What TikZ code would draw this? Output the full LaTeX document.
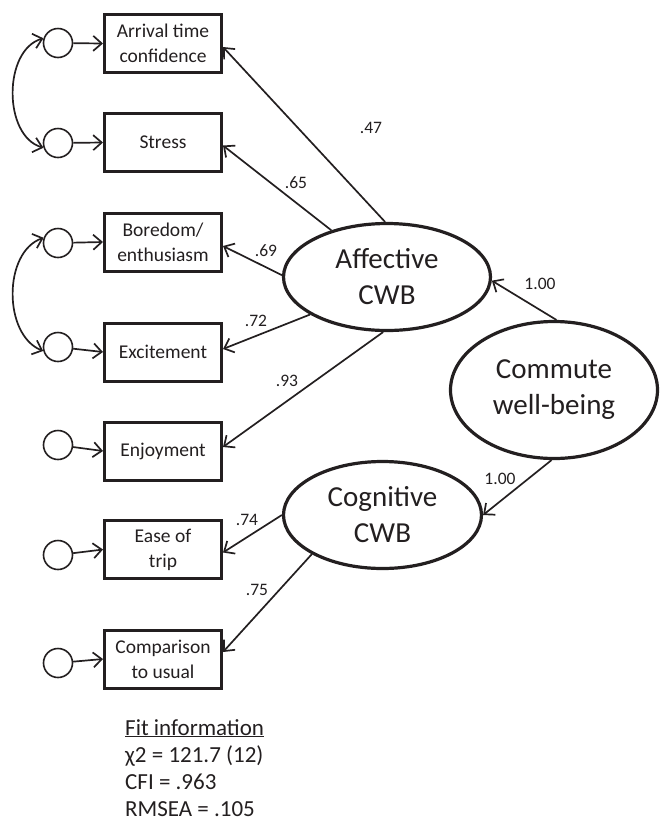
\documentclass[tikz,border=0pt]{standalone}
\usepackage{fontspec}
\setmainfont{Carlito}
\usetikzlibrary{shapes.geometric,arrows.meta}
\definecolor{ink}{HTML}{231F20}
\begin{document}
\begin{tikzpicture}[x=1pt,y=-1pt,
  obs/.style={draw=ink, line width=3pt, minimum width=117pt, minimum height=58pt, inner sep=0pt, align=center, font=\fontsize{19.5}{25}\selectfont, text=ink},
  err/.style={circle, draw=ink, line width=1.6pt, minimum size=29pt, inner sep=0pt},
  lat/.style={ellipse, draw=ink, line width=3.2pt, inner sep=0pt, align=center, font=\fontsize{29}{36}\selectfont, text=ink},
  pth/.style={draw=ink, line width=1.7pt, -{Straight Barb[length=8.5pt,width=15pt]}},
  cov/.style={draw=ink, line width=1.7pt, {Straight Barb[length=8.5pt,width=15pt]}-{Straight Barb[length=8.5pt,width=15pt]}},
  lbl/.style={font=\fontsize{17.5}{20}\selectfont, text=ink, inner sep=0pt},
  fit/.style={font=\fontsize{23}{27}\selectfont, text=ink, inner sep=0pt, anchor=base west},
]
\useasboundingbox (0,0) rectangle (660,823);

% observed indicators
\node[obs] (b1) at (163,43.5) {Arrival time\\confidence};
\node[obs] (b2) at (163,142.5) {Stress};
\node[obs] (b3) at (163,242) {Boredom/\\enthusiasm};
\node[obs] (b4) at (163,352) {Excitement};
\node[obs] (b5) at (163,451) {Enjoyment};
\node[obs] (b6) at (163,549.5) {Ease of\\trip};
\node[obs] (b7) at (163,659) {Comparison\\to usual};

% error terms
\node[err] (c1) at (58,43) {};
\node[err] (c2) at (58,143) {};
\node[err] (c3) at (58,243) {};
\node[err] (c4) at (58,347) {};
\node[err] (c5) at (58,445) {};
\node[err] (c6) at (58,555) {};
\node[err] (c7) at (58,663) {};

% latent variables
\node[lat, minimum width=207pt, minimum height=107pt] (aff) at (387,277) {Affective\\CWB};
\node[lat, minimum width=207pt, minimum height=137pt] (com) at (554,390) {Commute\\well-being};
\node[lat, minimum width=198pt, minimum height=107pt] (cog) at (382.5,515) {Cognitive\\CWB};

% error to indicator
\foreach \i in {1,...,7} {\draw[pth] (c\i) -- (b\i.west);}

% covariances
\draw[cov] (c1.162) .. controls (3,50) and (3,136) .. (c2.198);
\draw[cov] (c3.160) .. controls (3,252) and (3,335) .. (c4.195);

% loadings
\draw[pth] (aff.92) -- ([yshift=-3.5pt]b1.east);
\draw[pth] (aff.140) -- ([yshift=-3pt]b2.east);
\draw[pth] (aff.179) -- ([yshift=-4pt]b3.east);
\draw[pth] (aff.206) -- ([yshift=3pt]b4.east);
\draw[pth] (aff.266) -- ([yshift=4pt]b5.east);
\draw[pth] (com.88) -- (aff.-2);
\draw[pth] (com.268) -- (cog.east);
\draw[pth] (cog.west) -- ([yshift=-3pt]b6.east);
\draw[pth] (cog.209) -- ([yshift=7pt]b7.east);

% labels
\node[lbl] (l1) at (371,128) {.47};
\node[lbl] (l2) at (296,183) {.65};
\node[lbl] (l3) at (266,251) {.69};
\node[lbl] (l4) at (256,321) {.72};
\node[lbl] (l5) at (287,381) {.93};
\node[lbl] (l6) at (540,284) {1.00};
\node[lbl] (l7) at (500,479) {1.00};
\node[lbl] (l8) at (247,520) {.74};
\node[lbl] (l9) at (257,590) {.75};

% fit information
\node[fit] (f1) at (125,735) {\underline{Fit information}};
\node[fit] (f2) at (125,762) {χ2 = 121.7 (12)};
\node[fit] (f3) at (125,789) {CFI = .963};
\node[fit] (f4) at (125,816) {RMSEA = .105};
\end{tikzpicture}
\end{document}
